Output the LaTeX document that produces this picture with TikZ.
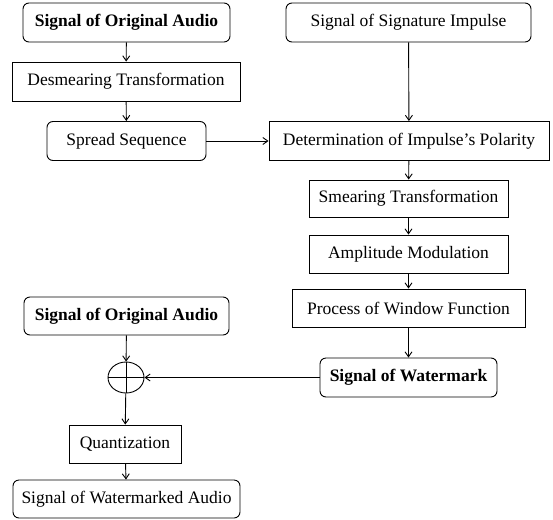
\documentclass[tikz,border=0pt]{standalone}
\usepackage{fontspec}
\setmainfont{Liberation Serif}
\usetikzlibrary{arrows.meta,shapes.geometric}
\begin{document}
\begin{tikzpicture}[x=1pt,y=-1pt,
  every node/.style={font=\fontsize{17.5}{20}\selectfont, inner sep=0pt, line width=0.9pt},
  rbox/.style={draw, rounded corners=6pt},
  sbox/.style={draw},
  conn/.style={line width=0.9pt, -{Straight Barb[length=5pt,width=7pt]}},
  bf/.style={font=\fontsize{17.5}{20}\selectfont\bfseries}]
\useasboundingbox (0,0) rectangle (553,519);
\node[rbox,bf,minimum width=207pt,minimum height=39pt] (orig1) at (126.5,22.5) {Signal of Original Audio};
\node[sbox,minimum width=228pt,minimum height=39pt] (desmear) at (126,81.5) {Desmearing Transformation};
\node[rbox,minimum width=159pt,minimum height=39pt] (spread) at (126.5,141) {Spread Sequence};
\node[rbox,minimum width=245pt,minimum height=39pt] (sigimp) at (408.5,22.5) {Signal of Signature Impulse};
\node[sbox,minimum width=280pt,minimum height=39pt] (determ) at (409,141) {Determination of Impulse’s Polarity};
\node[sbox,minimum width=199pt,minimum height=37pt] (smear) at (408.5,198.5) {Smearing Transformation};
\node[sbox,minimum width=199pt,minimum height=38pt] (ampl) at (408.5,254) {Amplitude Modulation};
\node[sbox,minimum width=233pt,minimum height=38pt] (window) at (408.5,308) {Process of Window Function};
\node[rbox,bf,minimum width=177pt,minimum height=39pt] (wmark) at (408.5,377.5) {Signal of Watermark};
\node[rbox,bf,minimum width=205pt,minimum height=38pt] (orig2) at (126.5,316) {Signal of Original Audio};
\node[draw,ellipse,minimum width=36pt,minimum height=31pt] (sum) at (126,377.5) {};
\node[sbox,minimum width=112pt,minimum height=38pt] (quant) at (125,444) {Quantization};
\node[rbox,minimum width=227pt,minimum height=38pt] (wmaudio) at (126.5,499) {Signal of Watermarked Audio};
\draw[line width=0.9pt] (sum.north) -- (sum.south) (sum.west) -- (sum.east);
\draw[conn] (orig1) -- (desmear);
\draw[conn] (desmear) -- (spread);
\draw[conn] (spread) -- (determ);
\draw[conn] (sigimp) -- (determ);
\draw[conn] (determ) -- (smear);
\draw[conn] (smear) -- (ampl);
\draw[conn] (ampl) -- (window);
\draw[conn] (window) -- (wmark);
\draw[conn] (wmark) -- (sum);
\draw[conn] (orig2) -- (sum);
\draw[conn] (sum) -- (quant);
\draw[conn] (quant) -- (wmaudio);
\end{tikzpicture}
\end{document}
